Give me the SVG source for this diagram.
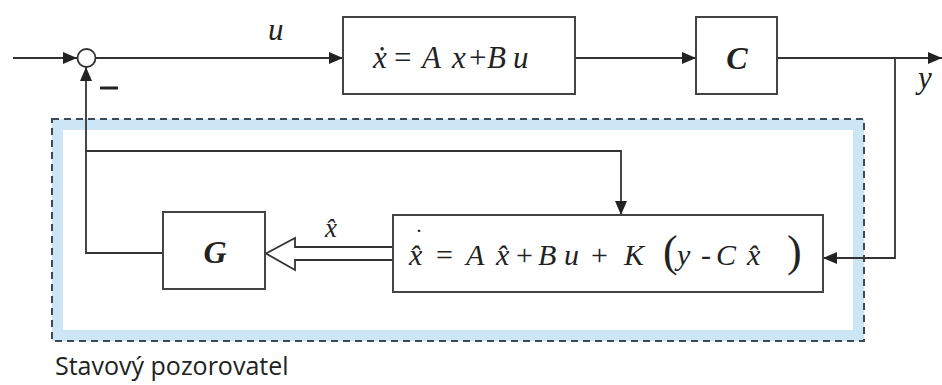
<svg xmlns="http://www.w3.org/2000/svg" width="942" height="385" viewBox="0 0 942 385">
<defs>
<marker id="ah" markerWidth="14" markerHeight="12" refX="14" refY="6" orient="auto" markerUnits="userSpaceOnUse">
<path d="M0,0 L14,6 L0,12 Z" fill="#222"/>
</marker>
<style>
.ln{fill:none;stroke:#333;stroke-width:1.8}
.box{fill:#fff;stroke:#444;stroke-width:2}
.m{font-family:"Liberation Serif",serif;font-style:italic;fill:#222}
.r{font-family:"Liberation Serif",serif;fill:#222}
.b{font-family:"Liberation Serif",serif;font-style:italic;font-weight:bold;fill:#222}
</style>
</defs>
<rect width="942" height="385" fill="#fff"/>
<g id="observer-frame">
<rect x="57.5" y="124.5" width="801" height="211" fill="none" stroke="#cde6f5" stroke-width="11"/>
<rect x="52" y="119" width="812" height="222" fill="none" stroke="#3a4a58" stroke-width="2" stroke-dasharray="7,5"/>
</g>
<g id="connectors">
<line class="ln" x1="13" y1="58" x2="77" y2="58" marker-end="url(#ah)"/>
<line class="ln" x1="96" y1="58" x2="343" y2="58" marker-end="url(#ah)"/>
<line class="ln" x1="575" y1="58" x2="696" y2="58" marker-end="url(#ah)"/>
<line class="ln" x1="777" y1="58" x2="942" y2="58" marker-end="url(#ah)"/>
<polyline class="ln" points="895,58 895,258 823,258" marker-end="url(#ah)"/>
<polyline class="ln" points="163,253 86,253 86,67" marker-end="url(#ah)"/>
<polyline class="ln" points="86,151 621,151 621,215" marker-end="url(#ah)"/>
<path d="M393,247 L295,247 L295,238 L266,253.5 L295,270 L295,260 L393,260" fill="#fff" stroke="#333" stroke-width="1.8"/>
<line x1="100" y1="88" x2="118" y2="88" stroke="#222" stroke-width="3"/>
</g>
<g id="sum">
<circle cx="86.5" cy="58" r="9" fill="#fff" stroke="#333" stroke-width="1.8"/>
</g>
<g id="plant">
<rect class="box" x="343" y="17" width="232" height="77"/>
<text class="m" x="373" y="68" font-size="31">ẋ</text>
<text class="r" x="394" y="68" font-size="31">=</text>
<text class="m" x="422" y="68" font-size="31">A</text>
<text class="m" x="452" y="68" font-size="31">x</text>
<text class="r" x="469" y="68" font-size="31">+</text>
<text class="m" x="487" y="68" font-size="31">B</text>
<text class="m" x="513" y="68" font-size="31">u</text>
</g>
<g id="output-C">
<rect class="box" x="696" y="17" width="81" height="77"/>
<text class="b" x="737" y="69" font-size="32" text-anchor="middle">C</text>
</g>
<g id="gain-G">
<rect class="box" x="163" y="212" width="102" height="77"/>
<text class="b" x="215" y="263" font-size="32" text-anchor="middle">G</text>
</g>
<g id="estimator">
<rect class="box" x="393" y="215" width="430" height="77"/>
<text class="r" x="415" y="245" font-size="24">˙</text>
<text class="m" x="409" y="265" font-size="30">x&#x302;</text>
<text class="r" x="436" y="265" font-size="30">=</text>
<text class="m" x="466" y="265" font-size="30">A</text>
<text class="m" x="496" y="265" font-size="30">x&#x302;</text>
<text class="r" x="516" y="265" font-size="30">+</text>
<text class="m" x="538" y="265" font-size="30">B</text>
<text class="m" x="564" y="265" font-size="30">u</text>
<text class="r" x="591" y="265" font-size="30">+</text>
<text class="m" x="624" y="265" font-size="30">K</text>
<text class="r" x="663" y="266" font-size="44">(</text>
<text class="m" x="677" y="265" font-size="30">y</text>
<text class="r" x="701" y="265" font-size="30">-</text>
<text class="m" x="716" y="265" font-size="30">C</text>
<text class="m" x="747" y="265" font-size="30">x&#x302;</text>
<text class="r" x="787" y="266" font-size="44">)</text>
</g>
<g id="labels">
<text class="m" x="268" y="40" font-size="31">u</text>
<text class="m" x="918" y="88" font-size="31">y</text>
<text class="m" x="325" y="237" font-size="27">x&#x302;</text>
<text x="55" y="375" font-family="'Open Sans','Noto Sans',sans-serif" font-size="25" fill="#222">Stavový pozorovatel</text>
</g>
</svg>
